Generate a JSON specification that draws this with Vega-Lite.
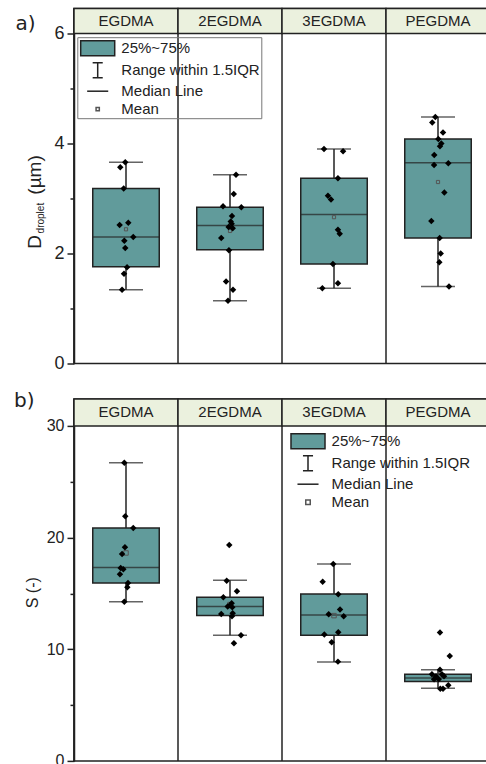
{
  "$schema": "https://vega.github.io/schema/vega-lite/v6.json",
  "padding": {"left": 12, "top": 6.5, "right": 0, "bottom": 0},
  "background": "white",
  "config": {
    "view": {"stroke": "#222", "strokeWidth": 1.5},
    "axis": {"labelFont": "Liberation Sans", "labelColor": "#222", "domainColor": "#222", "domainWidth": 1.5, "tickColor": "#222", "tickWidth": 1.5, "grid": false, "titleFont": "Liberation Sans", "titleFontWeight": "normal", "titleColor": "#222"},
    "legend": {"labelFont": "Liberation Sans", "labelFontSize": 15, "labelColor": "#222", "labelLimit": 300, "symbolSize": 324, "symbolStrokeWidth": 1.5, "symbolOpacity": 1, "labelOffset": 13.6, "symbolOffset": 9.4, "padding": 1, "rowPadding": 0, "title": null}
  },
  "datasets": {
    "legend": [{"item": "25%~75%"}, {"item": "Range within 1.5IQR"}, {"item": "Median Line"}, {"item": "Mean"}],
    "statsA": [
      {"group": "EGDMA", "lo": 1.34, "q1": 1.76, "med": 2.30, "q3": 3.18, "hi": 3.66, "mean": 2.44},
      {"group": "2EGDMA", "lo": 1.14, "q1": 2.07, "med": 2.51, "q3": 2.84, "hi": 3.43, "mean": 2.41},
      {"group": "3EGDMA", "lo": 1.37, "q1": 1.81, "med": 2.71, "q3": 3.37, "hi": 3.90, "mean": 2.66},
      {"group": "PEGDMA", "lo": 1.40, "q1": 2.28, "med": 3.65, "q3": 4.08, "hi": 4.48, "mean": 3.30}
    ],
    "statsB": [
      {"group": "EGDMA", "lo": 14.26, "q1": 15.94, "med": 17.31, "q3": 20.86, "hi": 26.71, "mean": 18.62},
      {"group": "2EGDMA", "lo": 11.25, "q1": 13.01, "med": 13.82, "q3": 14.65, "hi": 16.17, "mean": 14.0},
      {"group": "3EGDMA", "lo": 8.86, "q1": 11.25, "med": 13.07, "q3": 14.95, "hi": 17.64, "mean": 13.01},
      {"group": "PEGDMA", "lo": 6.51, "q1": 7.10, "med": 7.43, "q3": 7.76, "hi": 8.17, "mean": 7.5}
    ],
    "ptsA": [
      {"group": "EGDMA", "v": 3.66, "jit": -0.007}, {"group": "EGDMA", "v": 3.57, "jit": -0.055}, {"group": "EGDMA", "v": 3.18, "jit": -0.022}, {"group": "EGDMA", "v": 2.52, "jit": -0.061}, {"group": "EGDMA", "v": 2.56, "jit": 0.022}, {"group": "EGDMA", "v": 2.30, "jit": 0.07}, {"group": "EGDMA", "v": 2.23, "jit": -0.016}, {"group": "EGDMA", "v": 2.10, "jit": -0.007}, {"group": "EGDMA", "v": 1.75, "jit": 0.01}, {"group": "EGDMA", "v": 1.63, "jit": -0.019}, {"group": "EGDMA", "v": 1.34, "jit": -0.038},
      {"group": "2EGDMA", "v": 3.43, "jit": 0.058}, {"group": "2EGDMA", "v": 3.08, "jit": 0.036}, {"group": "2EGDMA", "v": 2.86, "jit": -0.067}, {"group": "2EGDMA", "v": 2.84, "jit": 0.109}, {"group": "2EGDMA", "v": 2.68, "jit": 0.019}, {"group": "2EGDMA", "v": 2.58, "jit": 0.007}, {"group": "2EGDMA", "v": 2.54, "jit": 0.016}, {"group": "2EGDMA", "v": 2.48, "jit": -0.013}, {"group": "2EGDMA", "v": 2.46, "jit": 0.026}, {"group": "2EGDMA", "v": 2.28, "jit": -0.084}, {"group": "2EGDMA", "v": 2.06, "jit": -0.01}, {"group": "2EGDMA", "v": 1.49, "jit": -0.038}, {"group": "2EGDMA", "v": 1.34, "jit": 0.029}, {"group": "2EGDMA", "v": 1.14, "jit": -0.019},
      {"group": "3EGDMA", "v": 3.90, "jit": -0.096}, {"group": "3EGDMA", "v": 3.86, "jit": 0.087}, {"group": "3EGDMA", "v": 3.37, "jit": 0.038}, {"group": "3EGDMA", "v": 3.05, "jit": -0.058}, {"group": "3EGDMA", "v": 2.98, "jit": -0.029}, {"group": "3EGDMA", "v": 2.43, "jit": 0.038}, {"group": "3EGDMA", "v": 2.36, "jit": 0.055}, {"group": "3EGDMA", "v": 1.81, "jit": -0.01}, {"group": "3EGDMA", "v": 1.46, "jit": 0.038}, {"group": "3EGDMA", "v": 1.37, "jit": -0.112},
      {"group": "PEGDMA", "v": 4.48, "jit": -0.026}, {"group": "PEGDMA", "v": 4.38, "jit": -0.055}, {"group": "PEGDMA", "v": 4.20, "jit": 0.048}, {"group": "PEGDMA", "v": 4.08, "jit": 0.003}, {"group": "PEGDMA", "v": 4.00, "jit": 0.032}, {"group": "PEGDMA", "v": 3.95, "jit": 0.019}, {"group": "PEGDMA", "v": 3.79, "jit": -0.036}, {"group": "PEGDMA", "v": 3.61, "jit": -0.038}, {"group": "PEGDMA", "v": 3.64, "jit": 0.099}, {"group": "PEGDMA", "v": 3.11, "jit": 0.061}, {"group": "PEGDMA", "v": 2.59, "jit": -0.064}, {"group": "PEGDMA", "v": 2.28, "jit": 0.016}, {"group": "PEGDMA", "v": 2.00, "jit": 0.026}, {"group": "PEGDMA", "v": 1.84, "jit": 0.013}, {"group": "PEGDMA", "v": 1.40, "jit": 0.106}
    ],
    "ptsB": [
      {"group": "EGDMA", "v": 26.71, "jit": -0.016}, {"group": "EGDMA", "v": 21.91, "jit": -0.007}, {"group": "EGDMA", "v": 20.86, "jit": 0.07}, {"group": "EGDMA", "v": 19.13, "jit": -0.01}, {"group": "EGDMA", "v": 18.53, "jit": -0.038}, {"group": "EGDMA", "v": 17.28, "jit": -0.051}, {"group": "EGDMA", "v": 17.16, "jit": -0.026}, {"group": "EGDMA", "v": 16.71, "jit": -0.058}, {"group": "EGDMA", "v": 15.94, "jit": 0.019}, {"group": "EGDMA", "v": 15.55, "jit": 0.013}, {"group": "EGDMA", "v": 14.26, "jit": -0.016},
      {"group": "2EGDMA", "v": 19.34, "jit": -0.007}, {"group": "2EGDMA", "v": 16.14, "jit": -0.032}, {"group": "2EGDMA", "v": 15.19, "jit": 0.067}, {"group": "2EGDMA", "v": 14.65, "jit": -0.064}, {"group": "2EGDMA", "v": 14.12, "jit": 0.016}, {"group": "2EGDMA", "v": 13.94, "jit": 0}, {"group": "2EGDMA", "v": 13.82, "jit": -0.022}, {"group": "2EGDMA", "v": 13.76, "jit": 0.022}, {"group": "2EGDMA", "v": 13.16, "jit": -0.084}, {"group": "2EGDMA", "v": 13.22, "jit": 0.026}, {"group": "2EGDMA", "v": 12.95, "jit": 0.019}, {"group": "2EGDMA", "v": 11.25, "jit": 0.106}, {"group": "2EGDMA", "v": 10.54, "jit": 0.038},
      {"group": "3EGDMA", "v": 17.64, "jit": -0.007}, {"group": "3EGDMA", "v": 16.05, "jit": -0.109}, {"group": "3EGDMA", "v": 14.92, "jit": 0.041}, {"group": "3EGDMA", "v": 13.55, "jit": 0.058}, {"group": "3EGDMA", "v": 13.13, "jit": -0.051}, {"group": "3EGDMA", "v": 12.95, "jit": 0.093}, {"group": "3EGDMA", "v": 11.52, "jit": 0.041}, {"group": "3EGDMA", "v": 11.31, "jit": -0.093}, {"group": "3EGDMA", "v": 10.63, "jit": -0.022}, {"group": "3EGDMA", "v": 8.89, "jit": 0.038},
      {"group": "PEGDMA", "v": 11.49, "jit": 0.019}, {"group": "PEGDMA", "v": 9.40, "jit": 0.113}, {"group": "PEGDMA", "v": 8.17, "jit": 0.019}, {"group": "PEGDMA", "v": 7.76, "jit": -0.058}, {"group": "PEGDMA", "v": 7.76, "jit": 0.038}, {"group": "PEGDMA", "v": 7.58, "jit": -0.019}, {"group": "PEGDMA", "v": 7.58, "jit": 0.058}, {"group": "PEGDMA", "v": 7.31, "jit": 0.007}, {"group": "PEGDMA", "v": 7.31, "jit": -0.038}, {"group": "PEGDMA", "v": 6.78, "jit": 0.099}, {"group": "PEGDMA", "v": 6.47, "jit": 0.022}, {"group": "PEGDMA", "v": 6.47, "jit": 0.048}
    ]
  },
  "spacing": 35.4,
  "bounds": "flush",
  "resolve": {"scale": {"shape": "independent", "fill": "independent", "stroke": "independent"}, "legend": {"shape": "independent", "fill": "independent", "stroke": "independent"}},
  "vconcat": [
    {
      "width": 416, "height": 355,
      "resolve": {"scale": {"y": "independent", "x": "independent"}, "axis": {"y": "independent"}},
      "layer": [
        {
          "layer": [
            {"data": {"name": "statsA"}, "mark": {"type": "rule", "color": "#222", "strokeWidth": 1.5},
             "encoding": {"x": {"field": "group", "type": "nominal", "bandPosition": 0, "scale": {"type": "band", "domain": ["EGDMA", "2EGDMA", "3EGDMA", "PEGDMA"], "paddingInner": 0, "paddingOuter": 0}, "axis": null}}},
            {"data": {"name": "statsA"}, "mark": {"type": "bar", "orient": "vertical", "fill": "#ebf1de", "stroke": "#222", "strokeWidth": 1.5, "size": 104},
             "encoding": {"x": {"field": "group", "type": "nominal"}, "y": {"datum": 6, "type": "quantitative"}, "y2": {"datum": 6.4545}}},
            {"data": {"name": "statsA"}, "mark": {"type": "text", "font": "Liberation Sans", "fontSize": 15, "color": "#222"},
             "encoding": {"x": {"field": "group", "type": "nominal"}, "y": {"datum": 6.227, "type": "quantitative"}, "text": {"field": "group"}}},
            {"data": {"name": "statsA"}, "mark": {"type": "rule", "color": "#222", "strokeWidth": 1.5},
             "encoding": {
               "x": {"field": "group", "type": "nominal"},
               "y": {"field": "lo", "type": "quantitative", "scale": {"domain": [0, 6.4545], "nice": false},
                     "axis": {"title": "D", "values": [0, 1, 2, 3, 4, 5, 6], "format": "d", "labelExpr": "datum.value % 2 == 0 ? datum.label : ''", "labelFontSize": 18, "labelPadding": 3, "tickSize": {"condition": {"test": "datum.value % 2 == 1", "value": 4}, "value": 7}, "titleFontSize": 19, "titleX": -33.7, "titleY": 239.7, "titleAngle": 270, "titleAlign": "left", "titleBaseline": "alphabetic"}},
               "y2": {"field": "hi"}}},
            {"data": {"name": "statsA"}, "mark": {"type": "tick", "color": "#222", "size": 34, "thickness": 1.5},
             "encoding": {"x": {"field": "group", "type": "nominal"}, "y": {"field": "hi", "type": "quantitative"}}},
            {"data": {"name": "statsA"}, "mark": {"type": "tick", "color": "#222", "size": 34, "thickness": 1.5},
             "encoding": {"x": {"field": "group", "type": "nominal"}, "y": {"field": "lo", "type": "quantitative"}}},
            {"data": {"name": "statsA"}, "mark": {"type": "bar", "orient": "vertical", "fill": "#619b9b", "stroke": "#222", "strokeWidth": 1.5, "size": 66.5},
             "encoding": {"x": {"field": "group", "type": "nominal"}, "y": {"field": "q1", "type": "quantitative"}, "y2": {"field": "q3"}}},
            {"data": {"name": "statsA"}, "mark": {"type": "tick", "color": "#222", "size": 67, "thickness": 1.5},
             "encoding": {"x": {"field": "group", "type": "nominal"}, "y": {"field": "med", "type": "quantitative"}}},
            {"data": {"name": "statsA"}, "mark": {"type": "point", "shape": "square", "filled": false, "color": "#555", "strokeWidth": 1, "size": 10, "opacity": 1},
             "encoding": {"x": {"field": "group", "type": "nominal"}, "y": {"field": "mean", "type": "quantitative"}}},
            {"data": {"name": "legend"}, "mark": {"type": "point", "opacity": 0, "strokeWidth": 1.5},
             "encoding": {
               "fill": {"field": "item", "type": "nominal", "sort": null, "scale": {"domain": ["25%~75%", "Range within 1.5IQR", "Median Line", "Mean"], "range": ["#619b9b", "transparent", "transparent", "#ffffff"]}},
               "stroke": {"field": "item", "type": "nominal", "sort": null, "scale": {"domain": ["25%~75%", "Range within 1.5IQR", "Median Line", "Mean"], "range": ["#222222", "#222222", "#222222", "#555555"]}},
               "shape": {"field": "item", "type": "nominal", "sort": null,
               "scale": {"domain": ["25%~75%", "Range within 1.5IQR", "Median Line", "Mean"], "range": ["M-1.89,-0.83H1.89V0.83H-1.89Z", "M-0.56,-0.83H0.56M0,-0.83V0.83M-0.56,0.83H0.56", "M-1.17,0H1.17", "M-0.18,-0.18H0.18V0.18H-0.18Z"]},
               "legend": {"orient": "none", "legendX": 3.3, "legendY": 28.7, "strokeColor": "#777"}}}}
          ]
        },
        {"data": {"name": "ptsA"}, "mark": {"type": "point", "shape": "diamond", "filled": true, "color": "#000", "size": 42, "opacity": 1},
         "encoding": {"x": {"field": "group", "type": "nominal", "scale": {"type": "band", "domain": ["EGDMA", "2EGDMA", "3EGDMA", "PEGDMA"], "paddingInner": 0, "paddingOuter": 0}, "axis": null},
           "xOffset": {"field": "jit", "type": "quantitative", "scale": {"domain": [-0.5, 0.5], "range": [0, 104]}},
           "y": {"field": "v", "type": "quantitative", "scale": {"domain": [0, 6.4545], "nice": false}, "axis": null}}},
        {"data": {"name": "statsA"}, "mark": {"type": "rule", "opacity": 0},
         "encoding": {"y": {"field": "med", "type": "quantitative", "scale": {"domain": [0, 6.4545], "nice": false},
           "axis": {"orient": "left", "labels": false, "ticks": false, "domain": false, "title": "droplet", "titleFontSize": 10, "titleX": -31, "titleY": 224.4, "titleAngle": 270, "titleAlign": "left", "titleBaseline": "alphabetic"}}}},
        {"data": {"name": "statsA"}, "mark": {"type": "rule", "opacity": 0},
         "encoding": {"y": {"field": "mean", "type": "quantitative", "scale": {"domain": [0, 6.4545], "nice": false},
           "axis": {"orient": "left", "labels": false, "ticks": false, "domain": false, "title": "(µm)", "titleFontSize": 19, "titleX": -33.7, "titleY": 185.7, "titleAngle": 270, "titleAlign": "left", "titleBaseline": "alphabetic"}}}},
        {"data": {"name": "statsA"}, "mark": {"type": "rule", "opacity": 0},
         "encoding": {"y": {"field": "hi", "type": "quantitative", "scale": {"domain": [0, 6.4545], "nice": false},
           "axis": {"orient": "left", "labels": false, "ticks": false, "domain": false, "title": "a)", "titleFont": "DejaVu Sans", "titleFontSize": 20, "titleX": -39, "titleY": 15, "titleAngle": 0, "titleAlign": "right", "titleBaseline": "middle"}}}}
      ]
    },
    {
      "width": 416, "height": 362,
      "resolve": {"scale": {"y": "independent", "x": "independent"}, "axis": {"y": "independent"}},
      "layer": [
        {
          "layer": [
            {"data": {"name": "statsB"}, "mark": {"type": "rule", "color": "#222", "strokeWidth": 1.5},
             "encoding": {"x": {"field": "group", "type": "nominal", "bandPosition": 0, "scale": {"type": "band", "domain": ["EGDMA", "2EGDMA", "3EGDMA", "PEGDMA"], "paddingInner": 0, "paddingOuter": 0}, "axis": null}}},
            {"data": {"name": "statsB"}, "mark": {"type": "bar", "orient": "vertical", "fill": "#ebf1de", "stroke": "#222", "strokeWidth": 1.5, "size": 104},
             "encoding": {"x": {"field": "group", "type": "nominal"}, "y": {"datum": 30, "type": "quantitative"}, "y2": {"datum": 32.418}}},
            {"data": {"name": "statsB"}, "mark": {"type": "text", "font": "Liberation Sans", "fontSize": 15, "color": "#222"},
             "encoding": {"x": {"field": "group", "type": "nominal"}, "y": {"datum": 31.209, "type": "quantitative"}, "text": {"field": "group"}}},
            {"data": {"name": "statsB"}, "mark": {"type": "rule", "color": "#222", "strokeWidth": 1.5},
             "encoding": {
               "x": {"field": "group", "type": "nominal"},
               "y": {"field": "lo", "type": "quantitative", "scale": {"domain": [0, 32.418], "nice": false},
                     "axis": {"title": "S (-)", "values": [0, 5, 10, 15, 20, 25, 30], "format": "d", "labelExpr": "datum.value % 10 == 0 ? datum.label : ''", "labelFontSize": 16, "labelPadding": 3, "tickSize": {"condition": {"test": "datum.value % 10 == 5", "value": 4}, "value": 7}, "titleFontSize": 16, "titleX": -37, "titleY": 193.3, "titleAngle": 270, "titleAlign": "center", "titleBaseline": "alphabetic"}},
               "y2": {"field": "hi"}}},
            {"data": {"name": "statsB"}, "mark": {"type": "tick", "color": "#222", "size": 34, "thickness": 1.5},
             "encoding": {"x": {"field": "group", "type": "nominal"}, "y": {"field": "hi", "type": "quantitative"}}},
            {"data": {"name": "statsB"}, "mark": {"type": "tick", "color": "#222", "size": 34, "thickness": 1.5},
             "encoding": {"x": {"field": "group", "type": "nominal"}, "y": {"field": "lo", "type": "quantitative"}}},
            {"data": {"name": "statsB"}, "mark": {"type": "bar", "orient": "vertical", "fill": "#619b9b", "stroke": "#222", "strokeWidth": 1.5, "size": 66.5},
             "encoding": {"x": {"field": "group", "type": "nominal"}, "y": {"field": "q1", "type": "quantitative"}, "y2": {"field": "q3"}}},
            {"data": {"name": "statsB"}, "mark": {"type": "tick", "color": "#222", "size": 67, "thickness": 1.5},
             "encoding": {"x": {"field": "group", "type": "nominal"}, "y": {"field": "med", "type": "quantitative"}}},
            {"data": {"name": "statsB"}, "mark": {"type": "point", "shape": "square", "filled": false, "color": "#555", "strokeWidth": 1, "size": 20, "opacity": 1},
             "encoding": {"x": {"field": "group", "type": "nominal"}, "y": {"field": "mean", "type": "quantitative"}}},
            {"data": {"name": "legend"}, "mark": {"type": "point", "opacity": 0, "strokeWidth": 1.5},
             "encoding": {
               "fill": {"field": "item", "type": "nominal", "sort": null, "scale": {"domain": ["25%~75%", "Range within 1.5IQR", "Median Line", "Mean"], "range": ["#619b9b", "transparent", "transparent", "#ffffff"]}},
               "stroke": {"field": "item", "type": "nominal", "sort": null, "scale": {"domain": ["25%~75%", "Range within 1.5IQR", "Median Line", "Mean"], "range": ["#222222", "#222222", "#222222", "#555555"]}},
               "shape": {"field": "item", "type": "nominal", "sort": null,
               "scale": {"domain": ["25%~75%", "Range within 1.5IQR", "Median Line", "Mean"], "range": ["M-1.89,-0.83H1.89V0.83H-1.89Z", "M-0.56,-0.83H0.56M0,-0.83V0.83M-0.56,0.83H0.56", "M-1.17,0H1.17", "M-0.25,-0.25H0.25V0.25H-0.25Z"]},
               "legend": {"orient": "none", "legendX": 213.6, "legendY": 31.3}}}}
          ]
        },
        {"data": {"name": "ptsB"}, "mark": {"type": "point", "shape": "diamond", "filled": true, "color": "#000", "size": 42, "opacity": 1},
         "encoding": {"x": {"field": "group", "type": "nominal", "scale": {"type": "band", "domain": ["EGDMA", "2EGDMA", "3EGDMA", "PEGDMA"], "paddingInner": 0, "paddingOuter": 0}, "axis": null},
           "xOffset": {"field": "jit", "type": "quantitative", "scale": {"domain": [-0.5, 0.5], "range": [0, 104]}},
           "y": {"field": "v", "type": "quantitative", "scale": {"domain": [0, 32.418], "nice": false}, "axis": null}}},
        {"data": {"name": "statsB"}, "mark": {"type": "rule", "opacity": 0},
         "encoding": {"y": {"field": "hi", "type": "quantitative", "scale": {"domain": [0, 32.418], "nice": false},
           "axis": {"orient": "left", "labels": false, "ticks": false, "domain": false, "title": "b)", "titleFont": "DejaVu Sans", "titleFontSize": 20, "titleX": -40, "titleY": 2, "titleAngle": 0, "titleAlign": "right", "titleBaseline": "middle"}}}}
      ]
    }
  ]
}
